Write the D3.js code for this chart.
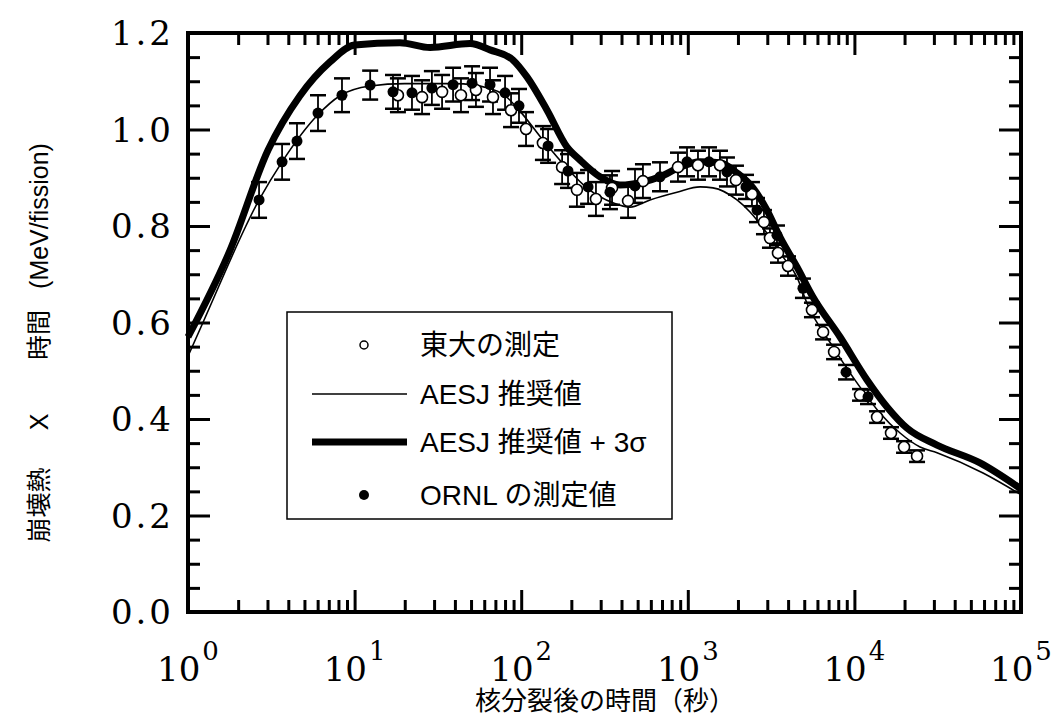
<!DOCTYPE html>
<html>
<head>
<meta charset="utf-8">
<script src="https://cdn.jsdelivr.net/npm/d3@7"></script>
<style>
    body { margin: 0; background: #fff; }
    svg { display: block; }
    .serif { font-family: "DejaVu Serif", serif; fill: #000; }
    .sans { font-family: "Liberation Sans", "Noto Sans CJK JP", sans-serif; fill: #000; }
</style>
</head>
<body>
<script>
//measured values: 東大の測定 (open circles)
var utTime = [18.2, 25.4, 33.5, 43.5, 53.5, 67.7, 86.9, 106.9, 135, 176, 216, 281, 351, 438, 538,
    873, 1151, 1560, 1946, 2427, 2865, 3113, 3478, 3994, 5562, 6486, 7551, 10810, 13680, 16590, 19860, 23770];
var utValue = [1.071, 1.067, 1.078, 1.071, 1.082, 1.067, 1.040, 1.001, 0.972, 0.922, 0.875, 0.856, 0.879, 0.852, 0.893,
    0.922, 0.926, 0.926, 0.895, 0.866, 0.808, 0.775, 0.744, 0.717, 0.626, 0.580, 0.539, 0.450, 0.404, 0.371, 0.342, 0.323];
var utError = [0.035, 0.035, 0.035, 0.035, 0.035, 0.035, 0.035, 0.035, 0.035, 0.035, 0.035, 0.035, 0.035, 0.035, 0.035,
    0.03, 0.03, 0.03, 0.03, 0.025, 0.025, 0.02, 0.02, 0.02, 0.015, 0.015, 0.015, 0.012, 0.012, 0.012, 0.012, 0.012];

//ORNL measured values (filled circles)
var ornlTime = [2.67, 3.67, 4.51, 6.03, 8.40, 12.4, 17.0, 22.1, 29.1, 39.0, 50.7, 65.0, 80.0, 97.0,
    145, 191, 252, 341, 482, 681, 989, 1341, 1718, 2236, 2602, 3430, 4911, 8910, 12070];
var ornlValue = [0.854, 0.933, 0.976, 1.034, 1.071, 1.092, 1.078, 1.076, 1.086, 1.093, 1.096, 1.093, 1.076, 1.049,
    0.966, 0.914, 0.881, 0.870, 0.883, 0.902, 0.933, 0.933, 0.912, 0.881, 0.833, 0.781, 0.671, 0.497, 0.446];
var ornlError = [0.037, 0.037, 0.037, 0.037, 0.035, 0.03, 0.035, 0.035, 0.035, 0.035, 0.035, 0.035, 0.035, 0.035,
    0.035, 0.035, 0.035, 0.035, 0.035, 0.03, 0.03, 0.03, 0.03, 0.025, 0.025, 0.02, 0.02, 0.015, 0.015];

//AESJ recommended curve
var aesjTime = [1, 1.23, 2.67, 3.67, 6.0, 8.17, 12.4, 20, 40, 65, 80, 100, 135, 188, 248, 356, 450, 593, 861,
    1184, 1416, 1974, 2363, 2986, 3727, 4521, 5191, 7447, 10810, 14260, 18790, 24770, 31330, 59160, 100000];
var aesjValue = [0.53, 0.60, 0.854, 0.933, 1.03, 1.07, 1.09, 1.095, 1.095, 1.085, 1.07, 1.035, 0.978, 0.920, 0.879, 0.848, 0.839, 0.854, 0.870,
    0.881, 0.879, 0.854, 0.829, 0.785, 0.736, 0.694, 0.640, 0.549, 0.466, 0.412, 0.371, 0.342, 0.330, 0.288, 0.243];

//AESJ recommended + 3 sigma curve
var sigmaTime = [1, 1.79, 3.02, 4.70, 7.12, 10, 18.7, 28.4, 49.3, 65, 89.3, 108.3, 143, 188, 225, 297, 392, 538, 681, 898,
    1184, 1560, 1974, 2462, 2986, 3575, 4521, 5638, 8204, 11910, 15700, 20700, 31330, 56760, 100000];
var sigmaValue = [0.57, 0.75, 0.957, 1.07, 1.14, 1.175, 1.18, 1.17, 1.178, 1.165, 1.144, 1.109, 1.040, 0.964, 0.937, 0.902, 0.885, 0.891, 0.902, 0.922,
    0.933, 0.931, 0.910, 0.879, 0.833, 0.777, 0.715, 0.653, 0.570, 0.481, 0.425, 0.381, 0.346, 0.309, 0.255];

var yTickLabels = ["0.0", "0.2", "0.4", "0.6", "0.8", "1.0", "1.2"];
var xTickExponents = ["0", "1", "2", "3", "4", "5"];
var legendLabels = ["東大の測定", "AESJ 推奨値", "AESJ 推奨値 + 3σ", "ORNL の測定値"];
var yTitleParts = ["崩壊熱", "X", "時間", "(MeV/fission)"];
var xTitle = "核分裂後の時間（秒）";

(function () {
    var width = 1051, height = 719;
    var plotLeft = 188, plotRight = 1021, plotTop = 33, plotBottom = 612;

    var svg = d3.select("body").append("svg")
        .attr("width", width)
        .attr("height", height);

    var x = d3.scaleLog().domain([1, 1e5]).range([plotLeft, plotRight]);
    var y = d3.scaleLinear().domain([0, 1.2]).range([plotBottom, plotTop]);

    //build point tables
    function zip(t, v, e) {
        return t.map(function (d, i) { return { t: d, v: v[i], e: e ? e[i] : 0 }; });
    }
    var utData = zip(utTime, utValue, utError);
    var ornlData = zip(ornlTime, ornlValue, ornlError);

    //curves
    var line = d3.line()
        .x(function (d) { return x(d.t); })
        .y(function (d) { return y(d.v); })
        .curve(d3.curveMonotoneX);

    svg.append("path")
        .datum(zip(aesjTime, aesjValue))
        .attr("d", line)
        .attr("fill", "none")
        .attr("stroke", "#000")
        .attr("stroke-width", 1.6);

    svg.append("path")
        .datum(zip(sigmaTime, sigmaValue))
        .attr("d", line)
        .attr("fill", "none")
        .attr("stroke", "#000")
        .attr("stroke-width", 7)
        .attr("stroke-linejoin", "round");

    //error bars
    function errorBars(data) {
        var g = svg.append("g").attr("stroke", "#000").attr("stroke-width", 1.8);
        data.forEach(function (d) {
            var cx = x(d.t);
            g.append("line").attr("x1", cx).attr("x2", cx).attr("y1", y(d.v - d.e)).attr("y2", y(d.v + d.e));
            g.append("line").attr("x1", cx - 8).attr("x2", cx + 8).attr("y1", y(d.v - d.e)).attr("y2", y(d.v - d.e)).attr("stroke-width", 2.5);
            g.append("line").attr("x1", cx - 8).attr("x2", cx + 8).attr("y1", y(d.v + d.e)).attr("y2", y(d.v + d.e)).attr("stroke-width", 2.5);
        });
    }
    errorBars(utData);
    errorBars(ornlData);

    svg.selectAll(".ut")
        .data(utData)
        .enter()
        .append("circle")
        .attr("class", "ut")
        .attr("cx", function (d) { return x(d.t); })
        .attr("cy", function (d) { return y(d.v); })
        .attr("r", 5.5)
        .attr("fill", "#fff")
        .attr("stroke", "#000")
        .attr("stroke-width", 1.6);

    svg.selectAll(".ornl")
        .data(ornlData)
        .enter()
        .append("circle")
        .attr("class", "ornl")
        .attr("cx", function (d) { return x(d.t); })
        .attr("cy", function (d) { return y(d.v); })
        .attr("r", 5.5)
        .attr("fill", "#000");

    //inward ticks on all four sides
    var isDecade = function (d) { return Math.abs(Math.log10(d) - Math.round(Math.log10(d))) < 1e-9; };
    var majorX = x.ticks().filter(isDecade);
    var minorX = x.ticks().filter(function (d) { return !isDecade(d); });
    var majorY = yTickLabels.map(Number);
    var minorY = d3.range(0, 24).map(function (i) { return i * 0.05; })
        .filter(function (d) { return Math.abs(d / 0.2 - Math.round(d / 0.2)) > 1e-6; });

    function ticks(axis, values, size) {
        svg.append("g")
            .attr("transform", axis.tr)
            .call(axis.gen.tickValues(values).tickSize(size).tickFormat(""))
            .call(function (g) {
                g.select(".domain").remove();
                g.selectAll("line").attr("stroke", "#000").attr("stroke-width", 3);
            });
    }
    var axes = [
        { gen: d3.axisBottom(x), tr: "translate(0," + plotBottom + ")", vals: [majorX, minorX] },
        { gen: d3.axisTop(x), tr: "translate(0," + plotTop + ")", vals: [majorX, minorX] },
        { gen: d3.axisLeft(y), tr: "translate(" + plotLeft + ",0)", vals: [majorY, minorY] },
        { gen: d3.axisRight(y), tr: "translate(" + plotRight + ",0)", vals: [majorY, minorY] }
    ];
    axes.forEach(function (a) {
        ticks(a, a.vals[0], -22);
        ticks(a, a.vals[1], -12);
    });

    //frame
    svg.append("rect")
        .attr("x", plotLeft).attr("y", plotTop)
        .attr("width", plotRight - plotLeft).attr("height", plotBottom - plotTop)
        .attr("fill", "none")
        .attr("stroke", "#000")
        .attr("stroke-width", 4);

    //y tick labels
    svg.selectAll(".ylab")
        .data(yTickLabels)
        .enter()
        .append("text")
        .attr("class", "serif")
        .attr("x", 174)
        .attr("y", function (d) { return y(+d); })
        .attr("dy", "0.36em")
        .attr("text-anchor", "end")
        .style("font-size", "34px")
        .style("letter-spacing", "3px")
        .text(function (d) { return d; });

    //x tick labels 10^n
    var xl = svg.selectAll(".xlab")
        .data(xTickExponents)
        .enter()
        .append("text")
        .attr("class", "serif")
        .attr("x", function (d) { return x(Math.pow(10, +d)); })
        .attr("y", 681)
        .attr("text-anchor", "middle")
        .style("font-size", "34px");
    xl.append("tspan").text("10");
    xl.append("tspan").attr("dx", 2).attr("dy", -21).style("font-size", "26px").text(function (d) { return d; });

    //y axis title, pieces spread along the axis
    var yTitleCenters = [505, 422, 335, 216];
    svg.selectAll(".ytitle")
        .data(yTitleParts)
        .enter()
        .append("text")
        .attr("class", "sans")
        .attr("transform", function (d, i) { return "translate(48," + yTitleCenters[i] + ") rotate(-90)"; })
        .attr("text-anchor", "middle")
        .style("font-size", "25px")
        .text(function (d) { return d; });

    svg.append("text")
        .attr("class", "sans")
        .attr("x", 605)
        .attr("y", 710)
        .attr("text-anchor", "middle")
        .style("font-size", "26px")
        .text(xTitle);

    //legend
    var legend = svg.append("g");
    legend.append("rect")
        .attr("x", 287).attr("y", 312)
        .attr("width", 385).attr("height", 207)
        .attr("fill", "#fff")
        .attr("stroke", "#000")
        .attr("stroke-width", 1.5);

    var rowY = [345, 394, 442, 495];
    legend.append("circle").attr("cx", 364).attr("cy", rowY[0]).attr("r", 4)
        .attr("fill", "#fff").attr("stroke", "#000").attr("stroke-width", 1.5);
    legend.append("line").attr("x1", 312).attr("x2", 407).attr("y1", rowY[1]).attr("y2", rowY[1])
        .attr("stroke", "#000").attr("stroke-width", 1.3);
    legend.append("line").attr("x1", 312).attr("x2", 407).attr("y1", rowY[2]).attr("y2", rowY[2])
        .attr("stroke", "#000").attr("stroke-width", 7);
    legend.append("circle").attr("cx", 364).attr("cy", rowY[3]).attr("r", 5)
        .attr("fill", "#000");

    legend.selectAll(".ltext")
        .data(legendLabels)
        .enter()
        .append("text")
        .attr("class", "sans")
        .attr("x", 420)
        .attr("y", function (d, i) { return rowY[i]; })
        .attr("dy", "0.36em")
        .style("font-size", "28px")
        .text(function (d) { return d; });
})();
</script>
</body>
</html>
